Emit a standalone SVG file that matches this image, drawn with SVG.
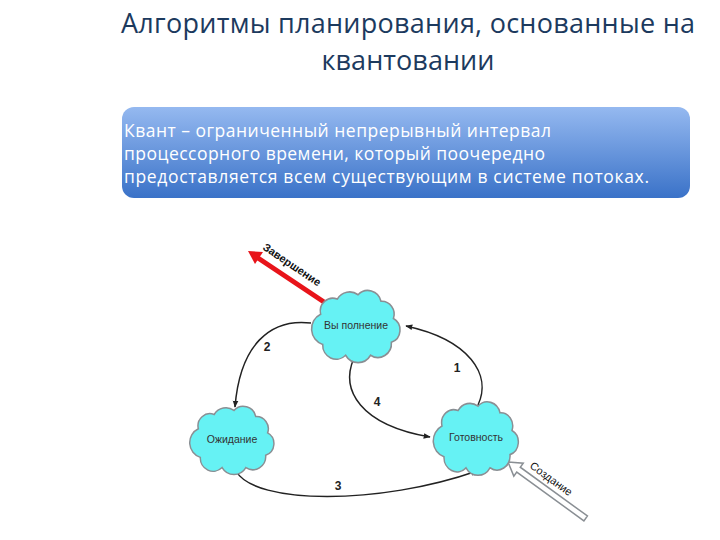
<svg xmlns="http://www.w3.org/2000/svg" width="720" height="540" viewBox="0 0 720 540">
<style>
.title{font-family:"Open Sans","Noto Sans","Liberation Sans",sans-serif;font-size:27px;fill:#1c3a5e;text-anchor:middle}
.box{font-family:"Open Sans","Noto Sans","Liberation Sans",sans-serif;font-size:17.5px;fill:#ffffff}
.cloud{fill:#66f2f4;stroke:#8a8f94;stroke-width:1.5}
.clabel{font-family:"Liberation Sans",Arial,sans-serif;font-size:10.5px;fill:#333;text-anchor:middle}
.num{font-family:"Liberation Sans",Arial,sans-serif;font-size:12px;font-weight:bold;fill:#222;text-anchor:middle}
.conn{fill:none;stroke:#222;stroke-width:1.5;marker-end:url(#ah)}
.rot{font-family:"Liberation Sans",Arial,sans-serif;font-size:11px;font-weight:bold;fill:#111}
</style>
<defs>
<linearGradient id="bg" x1="0" y1="0" x2="0" y2="1">
<stop offset="0" stop-color="#95b9f0"/>
<stop offset="1" stop-color="#3a72c8"/>
</linearGradient>
<marker id="ah" viewBox="0 0 10 10" refX="9" refY="5" markerWidth="7" markerHeight="7" orient="auto" markerUnits="userSpaceOnUse">
<path d="M0,1 L10,5 L0,9 Z" fill="#222"/>
</marker>
<path id="cl" d="M-34,-10 A12 12 0 0 1 -18,-24 A14 14 0 0 1 2,-28 A13 13 0 0 1 24,-22 A12 12 0 0 1 36,-6 A12 12 0 0 1 34,16 A13 13 0 0 1 14,28 A14 14 0 0 1 -10,28 A13 13 0 0 1 -32,18 A15 15 0 0 1 -34,-10 Z"/>
</defs>
<rect width="720" height="540" fill="#ffffff"/>
<g id="title">
<text class="title" x="408" y="33" textLength="574">Алгоритмы планирования, основанные на</text>
<text class="title" x="408" y="70" textLength="173">квантовании</text>
</g>
<g id="definition">
<rect x="122" y="107" width="568" height="91" rx="12" fill="url(#bg)"/>
<text class="box" x="124" y="137" textLength="427">Квант – ограниченный непрерывный интервал</text>
<text class="box" x="124" y="160" textLength="421">процессорного времени, который поочередно</text>
<text class="box" x="124" y="183" textLength="525">предоставляется всем существующим в системе потоках.</text>
</g>
<g id="connectors">
<path class="conn" d="M311,323 C270,318 240,345 235,407"/>
<path class="conn" d="M478,405 C492,375 470,340 406,326"/>
<path class="conn" d="M354,358 C340,390 360,425 430,437"/>
<path class="conn" d="M236,471 C255,505 380,505 477,471"/>
<text class="num" x="267" y="351">2</text>
<text class="num" x="457" y="372">1</text>
<text class="num" x="377" y="406">4</text>
<text class="num" x="338" y="490">3</text>
</g>
<g id="terminate">
<line x1="324" y1="302" x2="258" y2="258" stroke="#e8141a" stroke-width="5"/>
<path d="M248,251 L263,252 L255,264 Z" fill="#e8141a"/>
<text class="rot" transform="translate(262,249) rotate(34)">Завершение</text>
</g>
<g id="create">
<g transform="translate(508,462) rotate(36)">
<path d="M0,0 L13,-8 L13,-3 L96,-3 L96,3 L13,3 L13,8 Z" fill="#ffffff" stroke="#8a8f94" stroke-width="1.5"/>
<text class="rot" style="font-weight:normal" x="20" y="-8">Создание</text>
</g>
</g>
<g id="node-run">
<use href="#cl" class="cloud" transform="translate(356,325) scale(1.04,1.08)"/>
<text class="clabel" x="356" y="329">Вы полнение</text>
</g>
<g id="node-wait">
<use href="#cl" class="cloud" transform="translate(232,439) scale(0.99,1.02)"/>
<text class="clabel" x="232" y="443">Ожидание</text>
</g>
<g id="node-ready">
<use href="#cl" class="cloud" transform="translate(476,437) scale(1.0,1.1)"/>
<text class="clabel" x="476" y="441">Готовность</text>
</g>
</svg>
